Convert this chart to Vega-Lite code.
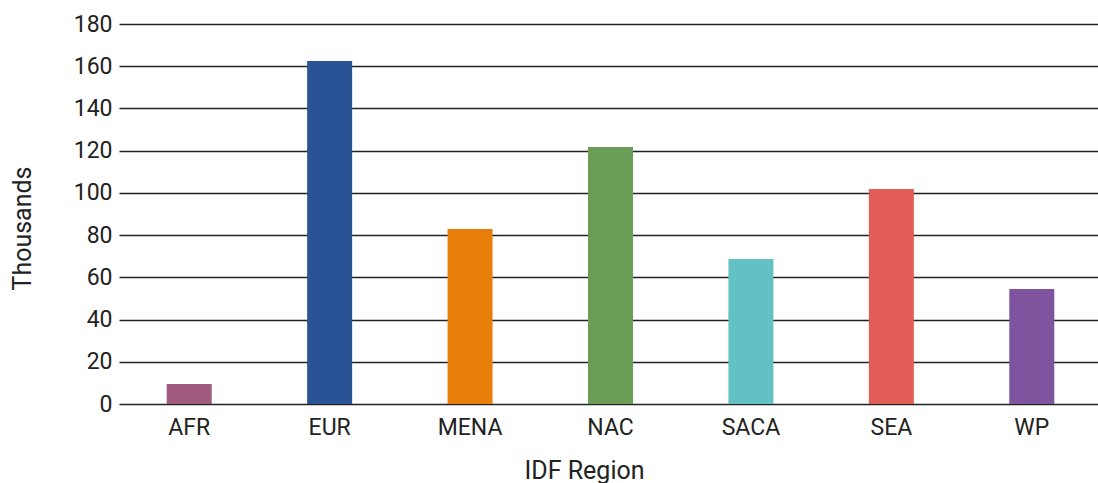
{
  "$schema": "https://vega.github.io/schema/vega-lite/v6.json",
  "width": 976,
  "height": 380,
  "autosize": {"type": "none"},
  "padding": {"left": 119, "top": 24, "right": 3, "bottom": 79},
  "background": "white",
  "data": {
    "values": [
      {"region": "AFR", "value": 9.5},
      {"region": "EUR", "value": 162.5},
      {"region": "MENA", "value": 82.9},
      {"region": "NAC", "value": 121.7},
      {"region": "SACA", "value": 68.7},
      {"region": "SEA", "value": 101.8},
      {"region": "WP", "value": 54.5}
    ]
  },
  "config": {
    "view": {"stroke": null},
    "font": "Roboto"
  },
  "mark": {"type": "bar", "size": 45},
  "encoding": {
    "x": {
      "field": "region",
      "type": "nominal",
      "sort": null,
      "scale": {"paddingInner": 0, "paddingOuter": 0, "range": [0, 983]},
      "axis": {
        "title": "IDF Region",
        "labelAngle": 0,
        "ticks": false,
        "domain": false,
        "labelFontSize": 23,
        "labelColor": "#222",
        "labelPadding": 12,
        "titleFontSize": 25,
        "titleFontWeight": "normal",
        "titleColor": "#222",
        "titlePadding": 19,
        "titleX": 465
      }
    },
    "y": {
      "field": "value",
      "type": "quantitative",
      "scale": {"domain": [0, 180]},
      "axis": {
        "title": "Thousands",
        "values": [0, 20, 40, 60, 80, 100, 120, 140, 160, 180],
        "ticks": false,
        "domain": false,
        "grid": true,
        "gridColor": "#222",
        "gridWidth": 1.3,
        "gridOpacity": 1,
        "labelFontSize": 23,
        "labelColor": "#222",
        "labelPadding": 7,
        "titleFontSize": 25,
        "titleFontWeight": "normal",
        "titleColor": "#222",
        "titlePadding": 38,
        "titleY": 204
      }
    },
    "color": {
      "field": "region",
      "type": "nominal",
      "legend": null,
      "scale": {
        "domain": ["AFR", "EUR", "MENA", "NAC", "SACA", "SEA", "WP"],
        "range": ["#A05A7D", "#2A5395", "#E87F0A", "#6A9E57", "#63C0C5", "#E25D57", "#7D549D"]
      }
    }
  }
}
